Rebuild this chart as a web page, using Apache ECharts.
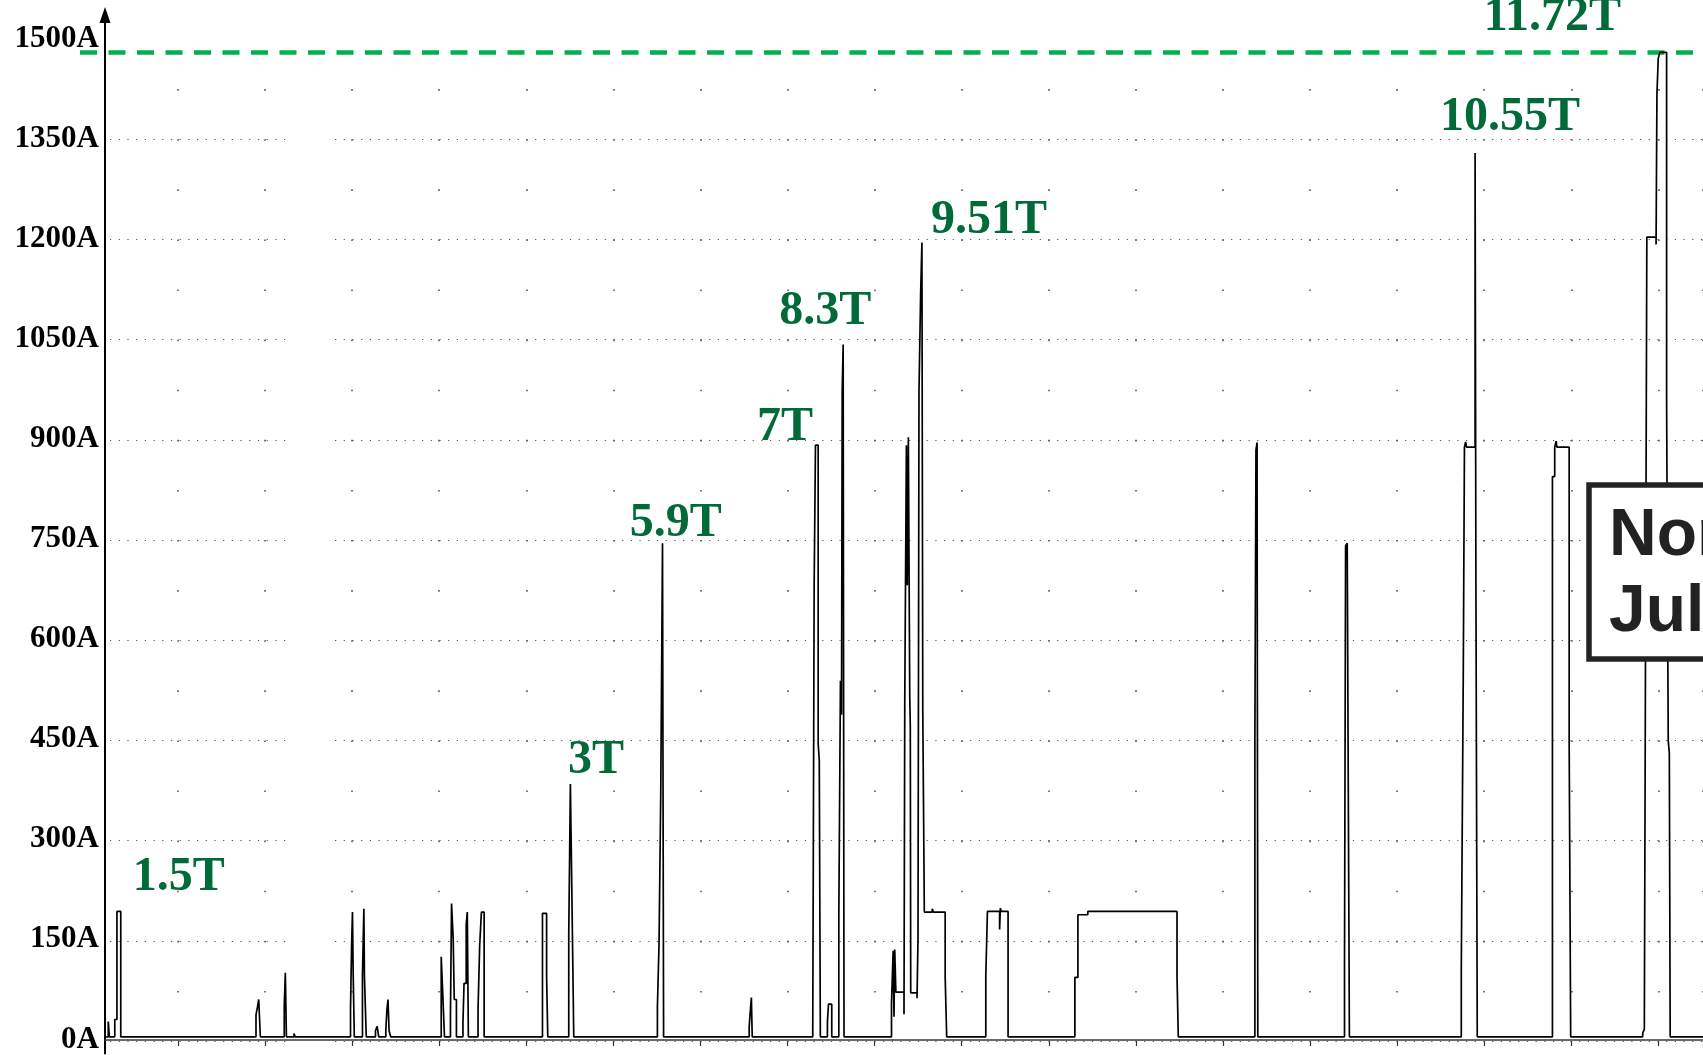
<!DOCTYPE html>
<html>
<head>
<meta charset="utf-8">
<title>Current trace</title>
<script src="https://cdn.jsdelivr.net/npm/echarts@6/dist/echarts.min.js"></script>
<style>
  html, body { margin: 0; padding: 0; background: #ffffff; }
  #chart { width: 1703px; height: 1055px; }
</style>
</head>
<body>
<div id="chart"></div>
<script>
// Current axis ticks (A)
const currentTicks = [0, 150, 300, 450, 600, 750, 900, 1050, 1200, 1350, 1500];

// Rated current limit (A)
const ratedLimit = 1480;

// Recorded current trace: [sample, current A]
const currentTrace = [
  [98,4],[100,4],[100,27],[101,27],[101,4],
  [106,4],[106,30],[108,30],[108,192],[111.5,192],[111.5,4],
  [236,4],[236,37],[237.5,37],[237.5,50],[238.5,50],[238.5,60],[240,60],[240,4],
  [262,4],[262,50],[263,50],[263,100],[264,100],[264,4],
  [271,4],[271,9],[272,9],[272,4],
  [323,4],[323,45],[324,45],[324,141],[324.8,141],[324.8,191],[325.5,191],[325.5,95],[326.5,95],[326.5,4],
  [334,4],[334,95],[335.3,95],[335.3,196],[335.8,196],[335.8,96],[337.5,96],[337.5,4],
  [346,4],[346,13],[347.5,13],[347.5,20],[349,20],[349,4],
  [355.5,4],[355.5,15],[356.5,15],[356.5,44],[357.5,44],[357.5,60],[358.5,60],[358.5,13],[360,13],[360,4],
  [406.5,4],[406.5,124],[408,124],[408,65],[409.5,65],[409.5,4],
  [415,4],[415,36],[416,36],[416,204],[417.5,204],[417.5,152],[418.5,152],[418.5,60],[420.5,60],[420.5,4],
  [426.5,4],[426.5,25],[427.5,25],[427.5,84],[429.5,84],[429.5,172],[430.5,172],[430.5,191],[431.5,191],[431.5,4],
  [440.4,4],[440.4,45],[441.9,45],[441.9,141],[443.5,141],[443.5,191],[446,191],[446,4],
  [499.7,4],[499.7,189],[503.5,189],[503.5,94],[504.6,94],[504.6,4],
  [523.9,4],[523.9,158],[525.4,158],[525.4,383],[527,383],[527,191],[528.5,191],[528.5,4],
  [605.5,4],[605.5,48],[607,48],[607,143],[608.6,143],[608.6,371],[610.2,371],[610.2,744],[611.2,744],[611.2,4],
  [690,4],[690,19],[690.8,19],[690.8,38],[692,38],[692,63],[692.8,63],[692.8,4],
  [748.5,4],[748.5,10],[749.8,10],[749.8,681],[751,681],[751,891],[753.5,891],[753.5,443],[754.5,443],[754.5,419],[755.5,419],[755.5,4],
  [762,4],[762,26],[763,26],[763,53],[766,53],[766,4],
  [772.5,4],[772.5,182],[774,182],[774,538],[775,538],[775,487],[775.6,487],[775.6,971],[776.5,971],[776.5,1042],[777.3,1042],[777.3,4],
  [821,4],[821,54],[822.5,54],[822.5,133],[823.3,133],[823.3,34],[824,34],[824,135],[825,135],[825,71],[832.5,71],[832.5,38],
  [833.2,38],[833.2,506],[834.7,506],[834.7,891],[835.5,891],[835.5,681],[836.5,681],[836.5,903],[837.8,903],[837.8,514],
  [838.3,514],[838.3,470],[838.7,470],[838.7,70],[844.5,70],[844.5,62],[845.4,62],[845.4,153],[846.3,153],[846.3,971],
  [847.8,971],[847.8,1117],[849,1117],[849,1195],[849.8,1195],[849.8,490],[850.6,490],[850.6,324],[851.2,324],[851.2,191],
  [858.5,191],[858.5,196],[859.5,196],[859.5,191],[870.4,191],[870.4,94],[871.8,94],[871.8,4],
  [907.8,4],[907.8,95],[909.3,95],[909.3,192],[920.5,192],[920.5,165],[921.2,165],[921.2,197],[922,197],[922,192],[928.3,192],[928.3,4],
  [989.8,4],[989.8,93],[992.6,93],[992.6,187],[1001.7,187],[1001.7,192],[1083.8,192],[1083.8,96],[1085,96],[1085,4],
  [1155.5,4],[1155.5,450],[1156.5,450],[1156.5,884],[1157.5,884],[1157.5,895],[1158.2,895],[1158.2,4],
  [1238,4],[1238,115],[1239,115],[1239,740],[1240.5,740],[1240.5,744],[1241.5,744],[1241.5,370],[1242.5,370],[1242.5,4],
  [1345.5,4],[1345.5,104],[1347.3,104],[1347.3,540],[1348.4,540],[1348.4,888],[1349.5,888],[1349.5,896],[1350.3,896],[1350.3,888],
  [1358.2,888],[1358.2,1329],[1359,1329],[1359,663],[1360.2,663],[1360.2,4],
  [1429.4,4],[1429.4,844],[1431.5,844],[1431.5,888],[1432.8,888],[1432.8,897],[1433.5,897],[1433.5,888],[1444.8,888],[1444.8,447],[1446.2,447],[1446.2,4],
  [1512.5,4],[1512.5,10],[1514,10],[1514,15],[1515,15],[1515,540],[1516.3,540],[1516.3,1203],[1524.8,1203],[1524.8,1192],
  [1525.6,1192],[1525.6,1417],[1526.8,1417],[1526.8,1471],[1528.3,1471],[1528.3,1480],[1534.5,1480],[1534.5,957],[1536,957],
  [1536,447],[1537,447],[1537,430],[1537.8,430],[1537.8,4],
  [1568,4]
];

// Lifted load (tonnes) and where each tag sits: [sample, current A]
const tonnageNames = ['1.5T', '3T', '5.9T', '7T', '8.3T', '9.51T', '10.55T', '11.72T'];
const tonnageSpots = [[165,243],[549,418],[622.5,773],[723,917],[760,1091],[910.8,1228],[1390.3,1382],[1429.4,1532]];

const noteLines = ['Nor', 'July'];

const SERIF = '"Liberation Serif", "Times New Roman", serif';
const SANS = '"Liberation Sans", Arial, sans-serif';
const dotColor = '#555555';

const chart = echarts.init(document.getElementById('chart'), null, { renderer: 'canvas' });

const option = {
  animation: false,
  backgroundColor: '#ffffff',
  grid: [
    { left: 105, right: 0, top: 15, bottom: 0 },        // trace
    { left: 178, right: 0, top: 89.1, bottom: 14 },     // vertical dot columns
    { left: 110, width: 180, top: 139.2, bottom: 14 },  // horizontal dotted rows (left part)
    { left: 335, right: 0, top: 139.2, bottom: 14 },    // horizontal dotted rows (right part)
    { left: 80, right: 0, top: 15, bottom: 0 }          // limit line
  ],
  xAxis: [
    {
      gridIndex: 0, type: 'value', min: 97, max: 1568, offset: 2,
      axisLine: { show: true, onZero: true, lineStyle: { color: '#3a3a3a', width: 1.5 } },
      axisTick: { show: false }, axisLabel: { show: false }, splitLine: { show: false }
    },
    {
      gridIndex: 1, type: 'value', min: 0, max: 17.513, interval: 1,
      axisLine: { show: false },
      axisTick: { show: true, length: 5, lineStyle: { color: '#333', width: 1.2 } },
      axisLabel: { show: false },
      splitLine: { show: true, lineStyle: { color: dotColor, width: 1.6, type: [1.6, 48.5] } }
    },
    { gridIndex: 2, type: 'value', min: 0, max: 1, show: false },
    { gridIndex: 3, type: 'value', min: 0, max: 1, show: false },
    { gridIndex: 4, type: 'value', min: 0, max: 1, show: false }
  ],
  yAxis: [
    {
      gridIndex: 0, type: 'value', min: -21, max: 1536,
      axisLine: {
        show: true, onZero: false,
        symbol: ['none', 'triangle'], symbolSize: [11, 16],
        lineStyle: { color: '#000', width: 2 }
      },
      axisTick: { show: false },
      splitLine: { show: false },
      axisLabel: {
        show: true,
        customValues: currentTicks,
        formatter: v => v + 'A',
        margin: 6,
        color: '#000',
        fontFamily: SERIF,
        fontWeight: 'bold',
        fontSize: 31,
        padding: [0, 0, 5, 0]
      }
    },
    { gridIndex: 1, type: 'value', min: 0, max: 1425, show: false },
    {
      gridIndex: 2, type: 'value', min: 0, max: 1350, interval: 150,
      axisLine: { show: false }, axisTick: { show: false }, axisLabel: { show: false },
      splitLine: { show: true, lineStyle: { color: dotColor, width: 1.2, type: [1.2, 7.5] } }
    },
    {
      gridIndex: 3, type: 'value', min: 0, max: 1350, interval: 150,
      axisLine: { show: false }, axisTick: { show: false }, axisLabel: { show: false },
      splitLine: { show: true, lineStyle: { color: dotColor, width: 1.2, type: [1.2, 7.5] } }
    },
    { gridIndex: 4, type: 'value', min: -21, max: 1536, show: false }
  ],
  series: [
    {
      name: 'limit', type: 'line', xAxisIndex: 4, yAxisIndex: 4, z: 1,
      symbol: 'none', silent: true,
      data: [[0, ratedLimit], [1, ratedLimit]],
      lineStyle: { color: '#00b050', width: 4.5, type: [17, 11.5] }
    },
    {
      name: 'current', type: 'line', xAxisIndex: 0, yAxisIndex: 0, z: 2,
      symbol: 'none', showSymbol: false, smooth: false,
      data: currentTrace,
      lineStyle: { color: '#000', width: 1.7 }
    },
    {
      name: 'load', type: 'scatter', xAxisIndex: 0, yAxisIndex: 0, z: 3,
      symbolSize: 0, clip: false, silent: true,
      itemStyle: { opacity: 1 },
      data: tonnageSpots.map((p, i) => ({ value: p, name: tonnageNames[i] })),
      label: {
        show: true, position: 'inside', formatter: '{b}', opacity: 1,
        color: '#006a38', textBorderWidth: 0, textBorderColor: 'transparent',
        fontFamily: SERIF, fontWeight: 'bold', fontSize: 48
      }
    }
  ],
  graphic: [
    {
      type: 'rect', z: 100,
      shape: { x: 1589, y: 485, width: 200, height: 174 },
      style: { fill: '#ffffff', stroke: '#232323', lineWidth: 5.5 }
    },
    {
      type: 'text', z: 101, x: 1609, y: 537,
      style: { text: noteLines[0], fill: '#222', fontFamily: SANS, fontWeight: 'bold', fontSize: 66, align: 'left', verticalAlign: 'middle' }
    },
    {
      type: 'text', z: 101, x: 1609, y: 613,
      style: { text: noteLines[1], fill: '#222', fontFamily: SANS, fontWeight: 'bold', fontSize: 66, align: 'left', verticalAlign: 'middle' }
    }
  ]
};

chart.setOption(option);
</script>
</body>
</html>
